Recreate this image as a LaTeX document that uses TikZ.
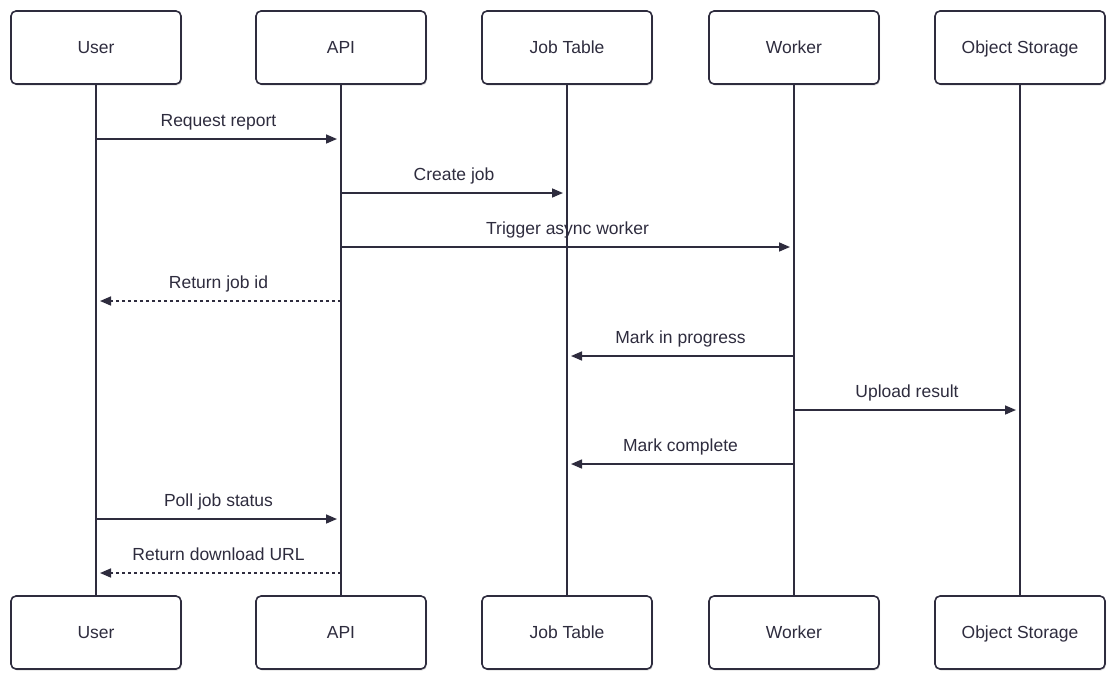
\documentclass[tikz,border=0pt]{standalone}
\usepackage{fontspec}
\setmainfont{Liberation Sans}
\usetikzlibrary{arrows.meta,shadows}
\definecolor{ink}{HTML}{2E2C3E}
\begin{document}
\begin{tikzpicture}[x=1pt,y=-1pt,
  actor/.style={draw=ink,line width=1.6pt,rounded corners=5pt,fill=white,
    minimum width=170pt,minimum height=73pt,inner sep=0pt,
    text height=14.5pt,text depth=2pt,
    font=\fontsize{17.5}{20}\selectfont,text=ink,
    drop shadow={shadow xshift=1pt,shadow yshift=-1.5pt,opacity=0.12,fill=black}},
  life/.style={draw=ink,line width=1.6pt},
  msg/.style={draw=ink,line width=1.6pt,-{Triangle[length=11pt,width=9pt]},shorten >=4pt},
  reply/.style={msg,dash pattern=on 3pt off 3pt},
  lbl/.style={font=\fontsize{17.5}{20}\selectfont,text=ink,inner sep=0pt,anchor=base,yshift=13pt}]
\useasboundingbox (0,0) rectangle (1116,681);
\foreach \n/\x/\t in {U/96/User,A/341/API,J/567/Job Table,W/794/Worker,O/1020/Object Storage}{
  \node[actor] (\n top) at (\x,47.5) {\t};
  \node[actor] (\n bot) at (\x,632.5) {\t};
  \draw[life] (\n top.south) -- (\n bot.north);
}
% message rows
\foreach \n/\x in {U/96,A/341,J/567,W/794,O/1020}{
  \foreach \k/\y in {1/139,2/193,3/247,4/301,5/356,6/410,7/464,8/519,9/573}{
    \coordinate (\n\k) at (\x,\y);
  }
}
\draw[msg] (U1) -- node[lbl] {Request report} (A1);
\draw[msg] (A2) -- node[lbl] {Create job} (J2);
\draw[msg] (A3) -- node[lbl] {Trigger async worker} (W3);
\draw[reply] (A4) -- node[lbl] {Return job id} (U4);
\draw[msg] (W5) -- node[lbl] {Mark in progress} (J5);
\draw[msg] (W6) -- node[lbl] {Upload result} (O6);
\draw[msg] (W7) -- node[lbl] {Mark complete} (J7);
\draw[msg] (U8) -- node[lbl] {Poll job status} (A8);
\draw[reply] (A9) -- node[lbl] {Return download URL} (U9);
\end{tikzpicture}
\end{document}
